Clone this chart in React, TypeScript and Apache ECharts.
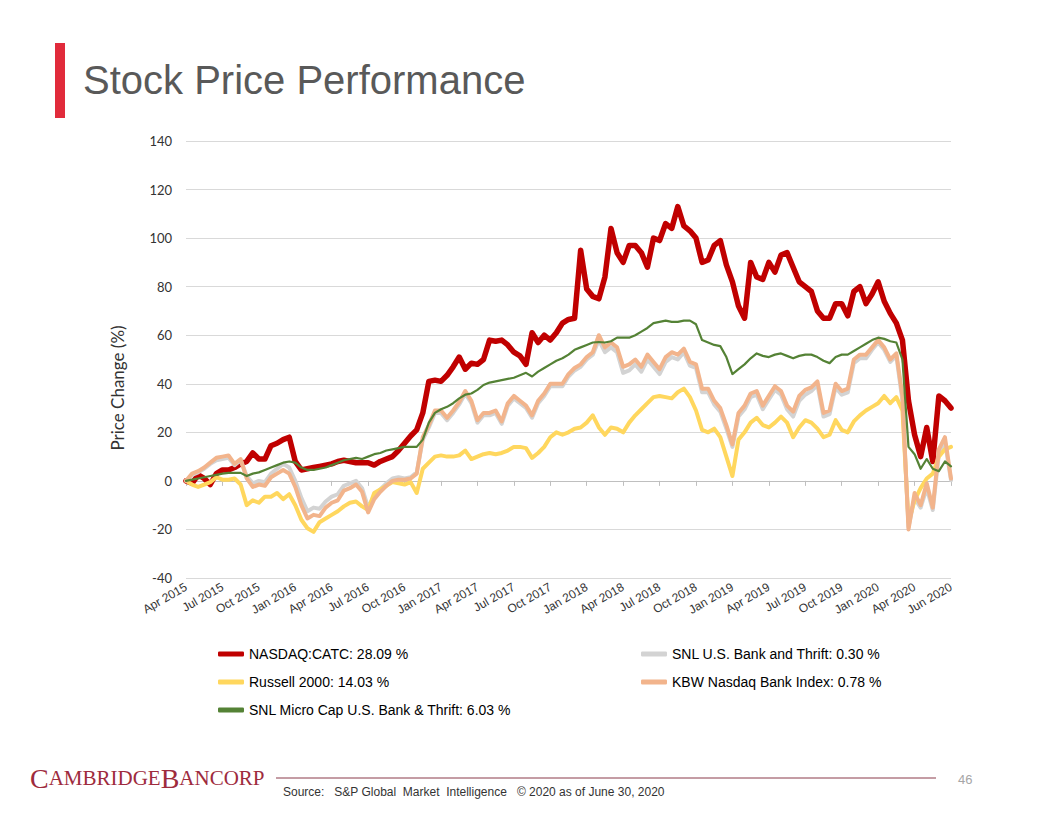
import React, { useEffect, useRef } from "react";
import * as echarts from "echarts";

// x axis: half-month steps from end of Mar 2015 (index 0) to end of Jun 2020 (index 126)
const tickLabels = [
  "Apr 2015", "Jul 2015", "Oct 2015", "Jan 2016", "Apr 2016", "Jul 2016", "Oct 2016",
  "Jan 2017", "Apr 2017", "Jul 2017", "Oct 2017", "Jan 2018", "Apr 2018", "Jul 2018",
  "Oct 2018", "Jan 2019", "Apr 2019", "Jul 2019", "Oct 2019", "Jan 2020", "Apr 2020", "Jun 2020",
];

const seriesNames = [
  "NASDAQ:CATC",
  "SNL U.S. Bank and Thrift",
  "Russell 2000",
  "KBW Nasdaq Bank Index",
  "SNL Micro Cap U.S. Bank & Thrift",
];
const finalReturns = ["28.09", "0.30", "14.03", "0.78", "6.03"];

const catc = [
  0, -1, 2.5, 1, -1.5, 3, 4.5, 4.5, 5.5, 7, 8, 11.5, 9, 9, 14.5, 15.5, 17, 18, 8, 4.5,
  5, 5.5, 6, 6.5, 7, 8, 8.5, 8, 7.5, 7.5, 7.5, 6.5, 8, 9, 10, 12.5, 15.5, 18.5, 21, 28,
  41, 41.5, 41, 43.5, 47, 51, 46, 48.5, 48, 50, 58, 57.5, 58, 56, 53, 51.5, 48, 61, 57, 60,
  58, 61, 65, 66.5, 67, 95, 79, 76, 75, 84, 104, 94, 90, 97, 97, 94, 88, 100, 99, 106,
  104, 113, 105, 103, 100, 90, 91, 97, 99, 89, 82, 72, 67, 90, 84, 83, 90, 86, 93, 94,
  88, 82, 80, 78, 70, 67, 67, 73, 73, 68, 78, 80, 73, 77, 82, 74, 69, 65, 58, 33,
  19, 10, 22, 8, 35, 33, 30,
];

const snlBank = [
  0, 2.5, 3.5, 5, 7, 8.5, 9, 9.5, 6.5, 8.5, 2, -1, 0, -0.5, 3, 5, 7, 5.5, 0, -7,
  -12.5, -11, -11.5, -8.5, -6.5, -5.5, -2, -1, 0, -3, -11, -6, -3.5, -1, 1, 1.5, 1, 1.5, 3.5, 17,
  22, 28, 28, 25, 28, 31.5, 36, 32, 24, 27, 27, 28, 23.5, 31, 34, 32, 30, 26, 32, 35,
  39, 39, 39, 43, 45.5, 47, 50, 52, 58, 53, 55, 53, 44.5, 45.5, 48, 45, 50, 47, 44, 49,
  51, 50, 53, 47.5, 46.5, 36.5, 36.5, 31.5, 28.5, 21.5, 14, 26.5, 29.5, 34.5, 35.5, 29.5, 33.5, 37.5, 35.5, 29.5,
  26.5, 33, 35.5, 37, 39.5, 26.5, 27.5, 38.5, 35.5, 36.5, 48.5, 50.5, 50.5, 54, 57, 54, 49, 51.5, 33, -19,
  -7, -11, -3, -12, 11, 16, 0.3,
];

const russell = [
  0, -1.5, -2.5, -1.5, -0.5, 1.5, 0.5, 0.5, 1, -1.5, -10, -8, -9, -6.5, -6.5, -5, -7.5, -5.5, -10, -16,
  -19.5, -21, -17, -15.5, -14, -12.5, -10.5, -9, -8.5, -10.5, -12, -5, -3.5, -2, -0.5, -1, -1.5, -0.5, -5, 5,
  7.5, 10, 10.5, 10, 10, 10.5, 12.5, 9, 10, 11, 11.5, 11, 11.5, 12.5, 14, 14, 13.5, 9.5, 11.5, 14,
  18, 20, 19, 20, 21.5, 22, 24, 27, 22, 19, 22, 21.5, 20, 24, 27, 29.5, 32, 34.5, 35, 34.5,
  34, 36.5, 38, 34.5, 29, 21, 20, 21.5, 18, 10, 2, 17, 20, 24, 26, 23, 22, 24, 26.5, 24,
  18, 22, 25, 24, 21.5, 18, 19, 25, 21, 20, 24.5, 27, 29, 30.5, 32, 35, 32, 34.5, 29, -17,
  -8, -3, 1, 3, 10, 13, 14,
];

const kbw = [
  0, 3, 4, 5.5, 7.5, 9.5, 10, 10.5, 7, 9, 1, -2.5, -1.5, -2, 1.5, 3, 4.5, 3, -2.5, -10,
  -15.5, -14, -14.5, -11, -9, -8, -4, -3, -1.5, -4.5, -13, -7.5, -4.5, -2, 0, 0.5, 0.5, 1, 3, 18,
  23, 29, 29, 26, 29, 32.5, 37, 33, 25, 28, 28, 29, 24.5, 32, 35, 33, 31, 27, 33, 36,
  40, 40, 40, 44, 46.5, 48, 51, 53, 60, 55, 57, 55, 47, 48, 50, 47, 52, 49, 46, 51,
  53, 52, 54.5, 49, 48, 38, 38, 33, 30, 23, 15, 28, 31, 36, 37, 31, 35, 39, 37, 31,
  28.5, 35, 37.5, 38.5, 41, 28, 29, 40, 37, 38, 50, 52, 52, 55, 58, 55, 50, 52.5, 35, -20,
  -5, -10, -1, -11, 13, 18, 1,
];

const microCap = [
  0, 0.5, 1, 1.5, 2, 2.5, 3, 3.3, 3.3, 3.3, 2, 3, 3.5, 4.5, 5.5, 6.5, 7.5, 8, 7.5, 5.5,
  4.5, 4.5, 5, 5.5, 6.5, 7.5, 8.5, 9, 9.5, 9, 10, 11, 11.5, 12.5, 13, 13.5, 14, 14, 14, 17,
  24, 28, 29.5, 30.5, 32, 34, 35.5, 36, 37.5, 39.5, 40.5, 41, 41.5, 42, 42.5, 43.5, 44.5, 43, 45, 46.5,
  48, 49.5, 50.5, 52, 54, 55, 56, 57, 57.2, 57, 57.5, 59, 59, 59, 60, 61.5, 63, 65, 65.5, 66,
  65.5, 65.5, 66, 66, 64.5, 58, 57, 56, 55.5, 51, 44, 46, 48, 50.5, 52.5, 51.5, 51, 52, 52.5, 51.5,
  50.5, 51.5, 52, 52, 51, 49.5, 48.5, 51, 52, 52, 53.5, 55, 56.5, 58, 59, 58.5, 57.5, 57, 50, 14,
  11, 5, 9, 5, 4, 8, 6,
];

const seriesData = [catc, snlBank, russell, kbw, microCap];
const seriesColors = ["#C00000", "#D3D3D3", "#FFD75E", "#F2B48C", "#548235"];
const seriesWidths = [5.5, 4, 4, 4, 2.2];

export default function App() {
  const ref = useRef<HTMLDivElement>(null);

  useEffect(() => {
    if (!ref.current) return;
    const chart = echarts.init(ref.current, undefined, { renderer: "svg" });
    const categories = catc.map((_, i) => String(i));

    const series = seriesNames.map((name, k) => ({
      name,
      type: "line",
      data: seriesData[k],
      showSymbol: false,
      symbol: "none",
      smooth: false,
      lineStyle: { color: seriesColors[k], width: seriesWidths[k], join: "round", cap: "round" },
      itemStyle: { color: seriesColors[k] },
      z: 2 + k,
    }));

    const legendText = {
      fontFamily: "'Liberation Sans', Arial, sans-serif",
      fontSize: 14,
      color: "#000",
      lineHeight: 16,
    };
    const legendFormatter = (name: string) => {
      const k = seriesNames.indexOf(name);
      return `${name}: ${finalReturns[k]} %`;
    };
    const legendBase = {
      top: 646,
      orient: "vertical",
      padding: 0,
      itemWidth: 26,
      itemHeight: 5,
      itemGap: 12,
      icon: "roundRect",
      formatter: legendFormatter,
      textStyle: legendText,
      selectedMode: false,
    };

    chart.setOption({
      animation: false,
      backgroundColor: "#fff",
      grid: { left: 186, right: 105, top: 141, bottom: 238, containLabel: false },
      xAxis: {
        type: "category",
        data: categories,
        boundaryGap: false,
        axisLine: { show: true, lineStyle: { color: "#BFBFBF", width: 1 } },
        axisTick: { show: true, interval: 5, length: 5, lineStyle: { color: "#BFBFBF" } },
        splitLine: { show: false },
        axisLabel: {
          interval: 5,
          rotate: 30,
          margin: 8,
          fontFamily: "'Liberation Sans', Arial, sans-serif",
          fontSize: 12,
          color: "#333",
          formatter: (_v: string, idx: number) => tickLabels[Math.round(idx / 6)] ?? "",
        },
      },
      yAxis: {
        type: "value",
        min: -40,
        max: 140,
        interval: 20,
        axisLine: { show: false },
        axisTick: { show: false },
        splitLine: { show: true, lineStyle: { color: "#D9D9D9", width: 1 } },
        axisLabel: {
          margin: 14,
          fontFamily: "Lato, 'Open Sans', sans-serif",
          fontSize: 13,
          color: "#333",
        },
      },
      legend: [
        { ...legendBase, left: 218, data: [seriesNames[0], seriesNames[2], seriesNames[4]] },
        { ...legendBase, left: 641, data: [seriesNames[1], seriesNames[3]] },
      ],
      series,
      graphic: [
        { type: "rect", shape: { x: 55, y: 43, width: 10, height: 75 }, style: { fill: "#E12B3B" } },
        {
          type: "text",
          x: 83,
          y: 80,
          style: {
            text: "Stock Price Performance",
            fontFamily: "'Liberation Sans', Arial, sans-serif",
            fontSize: 40,
            fill: "#595959",
            textVerticalAlign: "middle",
          },
        },
        {
          type: "text",
          x: 117,
          y: 388,
          rotation: Math.PI / 2,
          style: {
            text: "Price Change (%)",
            fontFamily: "Lato, 'Open Sans', sans-serif",
            fontSize: 17,
            fill: "#333",
            textAlign: "center",
            textVerticalAlign: "middle",
          },
        },
        {
          type: "text",
          x: 30,
          y: 778,
          style: {
            text: "{b|C}{s|AMBRIDGE}{b|B}{s|ANCORP}",
            textVerticalAlign: "middle",
            rich: {
              b: { fontFamily: "'Liberation Serif', serif", fontSize: 28, fill: "#9E2B3D", color: "#9E2B3D" },
              s: { fontFamily: "'Liberation Serif', serif", fontSize: 21, fill: "#9E2B3D", color: "#9E2B3D" },
            },
          },
        },
        {
          type: "line",
          shape: { x1: 276, y1: 778, x2: 936, y2: 778 },
          style: { stroke: "#8A3A4B", lineWidth: 1 },
        },
        {
          type: "text",
          x: 958,
          y: 779,
          style: {
            text: "46",
            fontFamily: "'Liberation Sans', sans-serif",
            fontSize: 13,
            fill: "#A6A6A6",
            textVerticalAlign: "middle",
          },
        },
        {
          type: "text",
          x: 283,
          y: 792,
          style: {
            text: "Source:   S&P Global  Market  Intelligence   © 2020 as of June 30, 2020",
            fontFamily: "'Liberation Sans', sans-serif",
            fontSize: 12,
            fill: "#333",
            textVerticalAlign: "middle",
          },
        },
      ],
    });

    return () => chart.dispose();
  }, []);

  return (
    <div
      ref={ref}
      style={{ position: "absolute", left: 0, top: 0, width: 1056, height: 816, background: "#fff" }}
    />
  );
}
